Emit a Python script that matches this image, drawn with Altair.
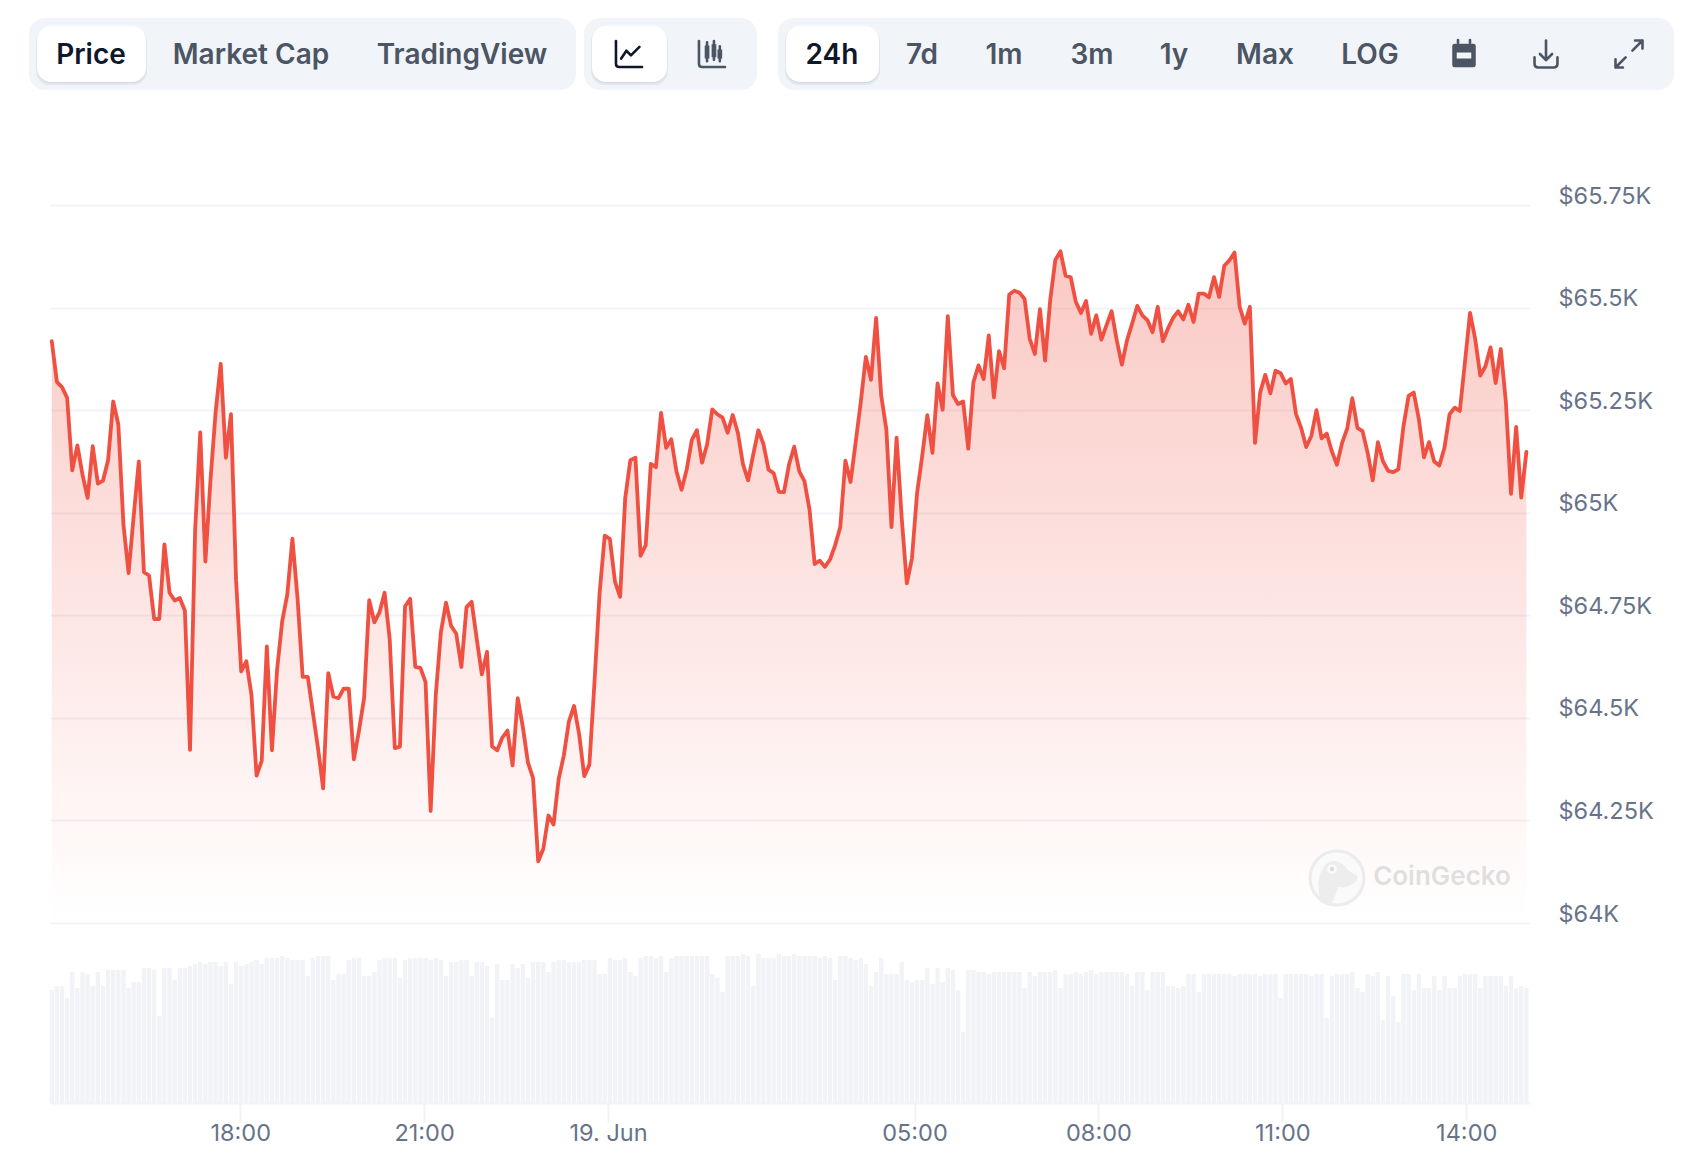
import altair as alt
import pandas as pd

# ---------- values ----------
prices = [65418,65319,65306,65280,65103,65164,65093,65036,65162,65071,65078,65128,65271,65215,64971,64853,64992,65125,64855,64847,
64741,64741,64923,64805,64786,64792,64761,64422,64958,65196,64881,65080,65245,65363,65134,65240,64835,64613,64638,64556,
64359,64395,64674,64421,64617,64735,64801,64937,64792,64600,64600,64513,64426,64328,64609,64552,64548,64571,64571,64399,
64469,64548,64787,64733,64757,64805,64692,64426,64430,64772,64790,64624,64622,64587,64273,64556,64709,64781,64724,64705,
64624,64770,64783,64692,64606,64661,64430,64421,64452,64469,64384,64548,64478,64391,64353,64150,64181,64262,64240,64351,
64408,64491,64529,64460,64358,64386,64588,64805,64944,64936,64832,64795,65036,65128,65134,64895,64921,65119,65111,65243,
65158,65179,65101,65056,65105,65177,65201,65122,65167,65252,65240,65232,65195,65238,65195,65118,65079,65142,65201,65167,
65105,65096,65051,65050,65118,65161,65101,65077,65007,64875,64883,64868,64886,64921,64965,65127,65075,65171,65269,65380,
65324,65475,65285,65203,64965,65183,64987,64828,64889,65048,65138,65238,65146,65315,65251,65479,65287,65265,65271,65156,
65318,65359,65326,65432,65281,65394,65352,65532,65541,65536,65521,65424,65387,65496,65371,65518,65616,65637,65578,65574,
65514,65487,65516,65436,65481,65422,65457,65491,65420,65361,65420,65461,65504,65481,65469,65440,65502,65418,65449,65475,
65491,65471,65507,65465,65534,65534,65525,65574,65526,65602,65615,65634,65502,65461,65502,65170,65293,65336,65291,65346,
65340,65315,65326,65241,65207,65160,65187,65250,65181,65193,65150,65117,65170,65205,65279,65207,65199,65146,65079,65172,
65125,65102,65099,65106,65211,65285,65293,65228,65135,65172,65125,65115,65158,65240,65256,65248,65367,65487,65424,65334,
65357,65403,65316,65399,65269,65046,65209,65037,65148]

volumes = [113,117,117,105,131,115,131,129,117,131,117,133,133,133,133,115,121,121,135,135,133,87,135,135,123,135,135,137,139,141,
139,141,141,137,141,119,141,137,139,141,143,139,145,145,145,147,145,143,143,143,127,145,147,147,147,123,129,129,143,145,
145,127,127,131,143,145,145,145,125,143,145,145,145,145,143,145,143,127,141,141,143,143,127,141,141,137,85,139,123,123,
139,135,139,125,141,141,141,131,141,143,143,141,141,141,143,143,143,129,129,145,143,143,145,131,127,145,147,147,145,147,
131,145,147,147,147,147,147,147,147,129,125,111,147,147,147,149,147,117,149,145,145,145,149,147,147,149,147,147,147,147,
145,147,145,123,147,147,145,143,145,139,117,131,145,129,129,129,141,123,121,123,123,135,119,135,121,135,133,113,71,133,
133,131,131,129,131,131,131,131,131,131,115,131,127,131,131,131,133,115,129,129,131,129,131,133,129,131,131,131,131,131,
129,117,131,131,113,131,131,131,117,117,115,117,129,129,111,129,129,129,129,129,129,127,129,129,129,129,127,129,129,129,
105,129,129,129,129,129,127,129,129,85,127,129,129,129,131,115,111,129,127,131,83,127,107,81,129,129,113,129,115,115,
127,113,127,115,115,127,129,129,129,115,127,127,127,127,117,127,115,117,115]

price_ticks = [64000,64250,64500,64750,65000,65250,65500,65750]
time_ticks = [(18,18),(18,21),(19,0),(19,5),(19,8),(19,11),(19,14)]
left_tabs = ["Price","Market Cap","TradingView"]
right_tabs = ["24h","7d","1m","3m","1y","Max","LOG"]
watermark = "CoinGecko"

# ---------- page layout helpers ----------
OX, OY = 50, 8          # where the plot area starts on the page
W, H = 1480, 1095
FONT = "Inter"
GRID = "#f1f3f6"
RED = "#ef5041"
DARK = "#0f172a"
MUTED = "#4b5563"
AXIS_TXT = "#677389"

times = pd.date_range("2024-06-18 14:55:33", periods=len(prices), freq="300700ms")
df = pd.DataFrame({"t": times, "price": prices, "vol": volumes})

def dt(day, hour, minute=0, sec=0):
    return alt.DateTime(year=2024, month=6, date=day, hours=hour, minutes=minute, seconds=sec)

xdom = alt.Scale(domain=[dt(18,14,53,49), dt(19,15,2,27)], range=[0, W], padding=0)
ydom = alt.Scale(domain=[64000,65750], range=[923-OY, 205-OY])
vdom = alt.Scale(domain=[0,150], range=[H, H-150])

# ---------- price area with grid + right axis ----------
area = alt.Chart(df).mark_area(
    color=alt.Gradient(gradient="linear", x1=0, x2=0, y1=0, y2=1, stops=[
        alt.GradientStop(color="rgba(239,80,65,0.31)", offset=0),
        alt.GradientStop(color="rgba(239,80,65,0.0)", offset=1),
    ]),
    line=False,
).encode(
    x=alt.X("t:T", scale=xdom, axis=None),
    y=alt.Y("price:Q", scale=ydom, title=None, axis=alt.Axis(
        orient="right", values=price_ticks, grid=True, gridColor=GRID, gridWidth=2,
        domain=False, ticks=False, labelPadding=28, labelOffset=-9,
        labelFont=FONT, labelFontSize=23.5, labelColor=AXIS_TXT, labelAlign="left",
        labelExpr="'$' + (datum.value / 1000) + 'K'", labelOverlap=False, labelFlush=False)),
    y2=alt.datum(64000),
)

line = alt.Chart(df).mark_line(color=RED, strokeWidth=3.8, strokeJoin="round", strokeCap="round").encode(
    x=alt.X("t:T", scale=xdom, axis=None),
    y=alt.Y("price:Q", scale=ydom, axis=None),
)

# ---------- volume bars + time axis ----------
bars = alt.Chart(df).mark_bar(color="#f1f3f7", size=4.4).encode(
    x=alt.X("t:T", scale=xdom, title=None, axis=alt.Axis(
        values=[dt(d,h) for d,h in time_ticks], grid=False,
        domainColor=GRID, domainWidth=2, tickColor=GRID, tickWidth=2, tickSize=19,
        labelPadding=-1, labelFont=FONT, labelFontSize=23.5, labelColor=AXIS_TXT,
        labelOverlap=False, labelFlush=False,
        labelExpr="hours(datum.value) === 0 ? '19. Jun' : timeFormat(datum.value, '%H:%M')")),
    y=alt.Y("vol:Q", scale=vdom, axis=None),
)

# ---------- toolbar ----------
def px(col):
    return alt.X(col, scale=None, axis=None)
def py(col):
    return alt.Y(col, scale=None, axis=None)

def panel(rows, radius, fill, opacity=1.0):
    d = pd.DataFrame([{"x0":a-OX,"x1":b-OX,"y0":c-OY,"y1":e-OY} for a,b,c,e in rows])
    return alt.Chart(d).mark_rect(cornerRadius=radius, color=fill, opacity=opacity).encode(
        x=px("x0:Q"), x2="x1:Q", y=py("y0:Q"), y2="y1:Q")

groups = panel([(29,576,18,90),(584,757,18,90),(778,1674,18,90)], 16, "#f1f4f9")
active = [(37,146,26,82),(592,667,26,82),(786,879,26,82)]
shadow2 = panel([(a-1,b+1,c+1,e+3) for a,b,c,e in active], 14, "#64748b", 0.10)
shadow1 = panel([(a,b,c+1,e+1) for a,b,c,e in active], 14, "#64748b", 0.12)
buttons = panel(active, 14, "#ffffff")

label_x = [91,251,462,832,922,1004,1092,1174,1265,1370]
labels = left_tabs + right_tabs
tab_df = pd.DataFrame({
    "x":[v-OX for v in label_x], "y":[56-OY]*len(labels), "s":labels,
    "c":[DARK if s in ("Price","24h") else MUTED for s in labels]})
tab_text = alt.Chart(tab_df).mark_text(font=FONT, fontSize=28, fontWeight=600, align="center", baseline="middle").encode(
    x=px("x:Q"), y=py("y:Q"), text="s:N", color=alt.Color("c:N", scale=None))

AX = "M-1,-1 L-1,0.75 Q-1,1 -0.75,1 L1,1 "
icons_stroke = pd.DataFrame([
    {"x":629,"y":54,"p":AX+"M-0.6,0.35 L-0.2,-0.25 L0.15,0.1 L0.8,-0.55","c":DARK,"sz":680},
    {"x":712,"y":54,"p":AX+"M-0.38,-0.9 L-0.38,0.55 M0.15,-1.0 L0.15,0.45 M0.6,-0.6 L0.6,0.55","c":MUTED,"sz":680},
    {"x":1546,"y":54,"p":"M-0.85,0.25 L-0.85,0.7 Q-0.85,1 -0.55,1 L0.55,1 Q0.85,1 0.85,0.7 L0.85,0.25 M0,-1 L0,0.45 M-0.45,0 L0,0.45 L0.45,0","c":MUTED,"sz":729},
    {"x":1629,"y":54,"p":"M0.25,-0.25 L1,-1 M0.45,-1 L1,-1 L1,-0.4 M-0.25,0.25 L-1,1 M-1,0.4 L-1,1 L-0.45,1","c":MUTED,"sz":729},
    {"x":1464,"y":41.5,"p":"M-0.5,-0.12 L-0.5,0.12 M0.5,-0.12 L0.5,0.12","c":MUTED,"sz":576},
])
icons_stroke["x"] -= OX; icons_stroke["y"] -= OY
icon_lines = alt.Chart(icons_stroke).mark_point(filled=False, strokeWidth=2.6, opacity=1, strokeCap="round", strokeJoin="round").encode(
    x=px("x:Q"), y=py("y:Q"), shape=alt.Shape("p:N", scale=None, legend=None),
    color=alt.Color("c:N", scale=None), size=alt.Size("sz:Q", scale=None))

icons_fill = pd.DataFrame([
    {"x":712,"y":54,"p":"M-0.56,-0.65 L-0.2,-0.65 L-0.2,0.35 L-0.56,0.35 Z M-0.03,-0.75 L0.33,-0.75 L0.33,0.25 L-0.03,0.25 Z M0.42,-0.35 L0.78,-0.35 L0.78,0.35 L0.42,0.35 Z","c":MUTED,"sz":680},
    {"x":1464,"y":55.5,"p":"M-0.8,-1 L0.8,-1 Q1,-1 1,-0.8 L1,0.8 Q1,1 0.8,1 L-0.8,1 Q-1,1 -1,0.8 L-1,-0.8 Q-1,-1 -0.8,-1 Z M-0.62,-0.25 L-0.62,0.25 L0.62,0.25 L0.62,-0.25 Z","c":MUTED,"sz":552},
])
icons_fill["x"] -= OX; icons_fill["y"] -= OY
icon_fills = alt.Chart(icons_fill).mark_point(filled=True, opacity=1).encode(
    x=px("x:Q"), y=py("y:Q"), shape=alt.Shape("p:N", scale=None, legend=None),
    color=alt.Color("c:N", scale=None), size=alt.Size("sz:Q", scale=None))

# ---------- watermark ----------
LX, LY = 1337-OX, 878-OY
logo_ring = alt.Chart(pd.DataFrame({"x":[LX],"y":[LY]})).mark_point(
    shape="circle", size=2916, filled=True, color="#fbfafa", opacity=1, stroke="#ececec", strokeWidth=3
).encode(x=px("x:Q"), y=py("y:Q"))
logo_body = alt.Chart(pd.DataFrame({"x":[LX],"y":[LY]})).mark_point(
    shape="M-0.62,0.9 Q-0.75,0.1 -0.6,-0.2 Q-0.4,-0.68 -0.05,-0.62 Q0.2,-0.58 0.4,-0.3 L0.72,-0.1 Q0.82,0.05 0.65,0.18 Q0.3,0.42 0.05,0.32 Q-0.05,0.6 -0.2,0.98 Q-0.42,0.98 -0.62,0.9 Z",
    size=2916, filled=True, color="#ededed", opacity=1
).encode(x=px("x:Q"), y=py("y:Q"))
logo_eye = alt.Chart(pd.DataFrame({"x":[LX-5],"y":[LY-9]})).mark_point(
    shape="circle", size=50, filled=False, color="#fafafa", fill="#dcdcdc", stroke="#fafafa", strokeWidth=2.5, opacity=1
).encode(x=px("x:Q"), y=py("y:Q"))
logo_text = alt.Chart(pd.DataFrame({"x":[1442-OX],"y":[877-OY],"s":[watermark]})).mark_text(
    font=FONT, fontSize=26, fontWeight=600, color="#dfdfdf", align="center", baseline="middle"
).encode(x=px("x:Q"), y=py("y:Q"), text="s:N")

chart = alt.layer(
    area, bars, line, logo_ring, logo_body, logo_eye, logo_text,
    groups, shadow2, shadow1, buttons, tab_text, icon_lines, icon_fills,
).resolve_scale(x="independent", y="independent").properties(
    width=W, height=H,
    padding={"left": OX-8, "top": 0, "right": 150, "bottom": 62},
    autosize=alt.AutoSizeParams(type="none"),
    background="#ffffff",
).configure_view(stroke=None)

chart.save("out.html", embed_options={"renderer": "svg", "actions": False})
